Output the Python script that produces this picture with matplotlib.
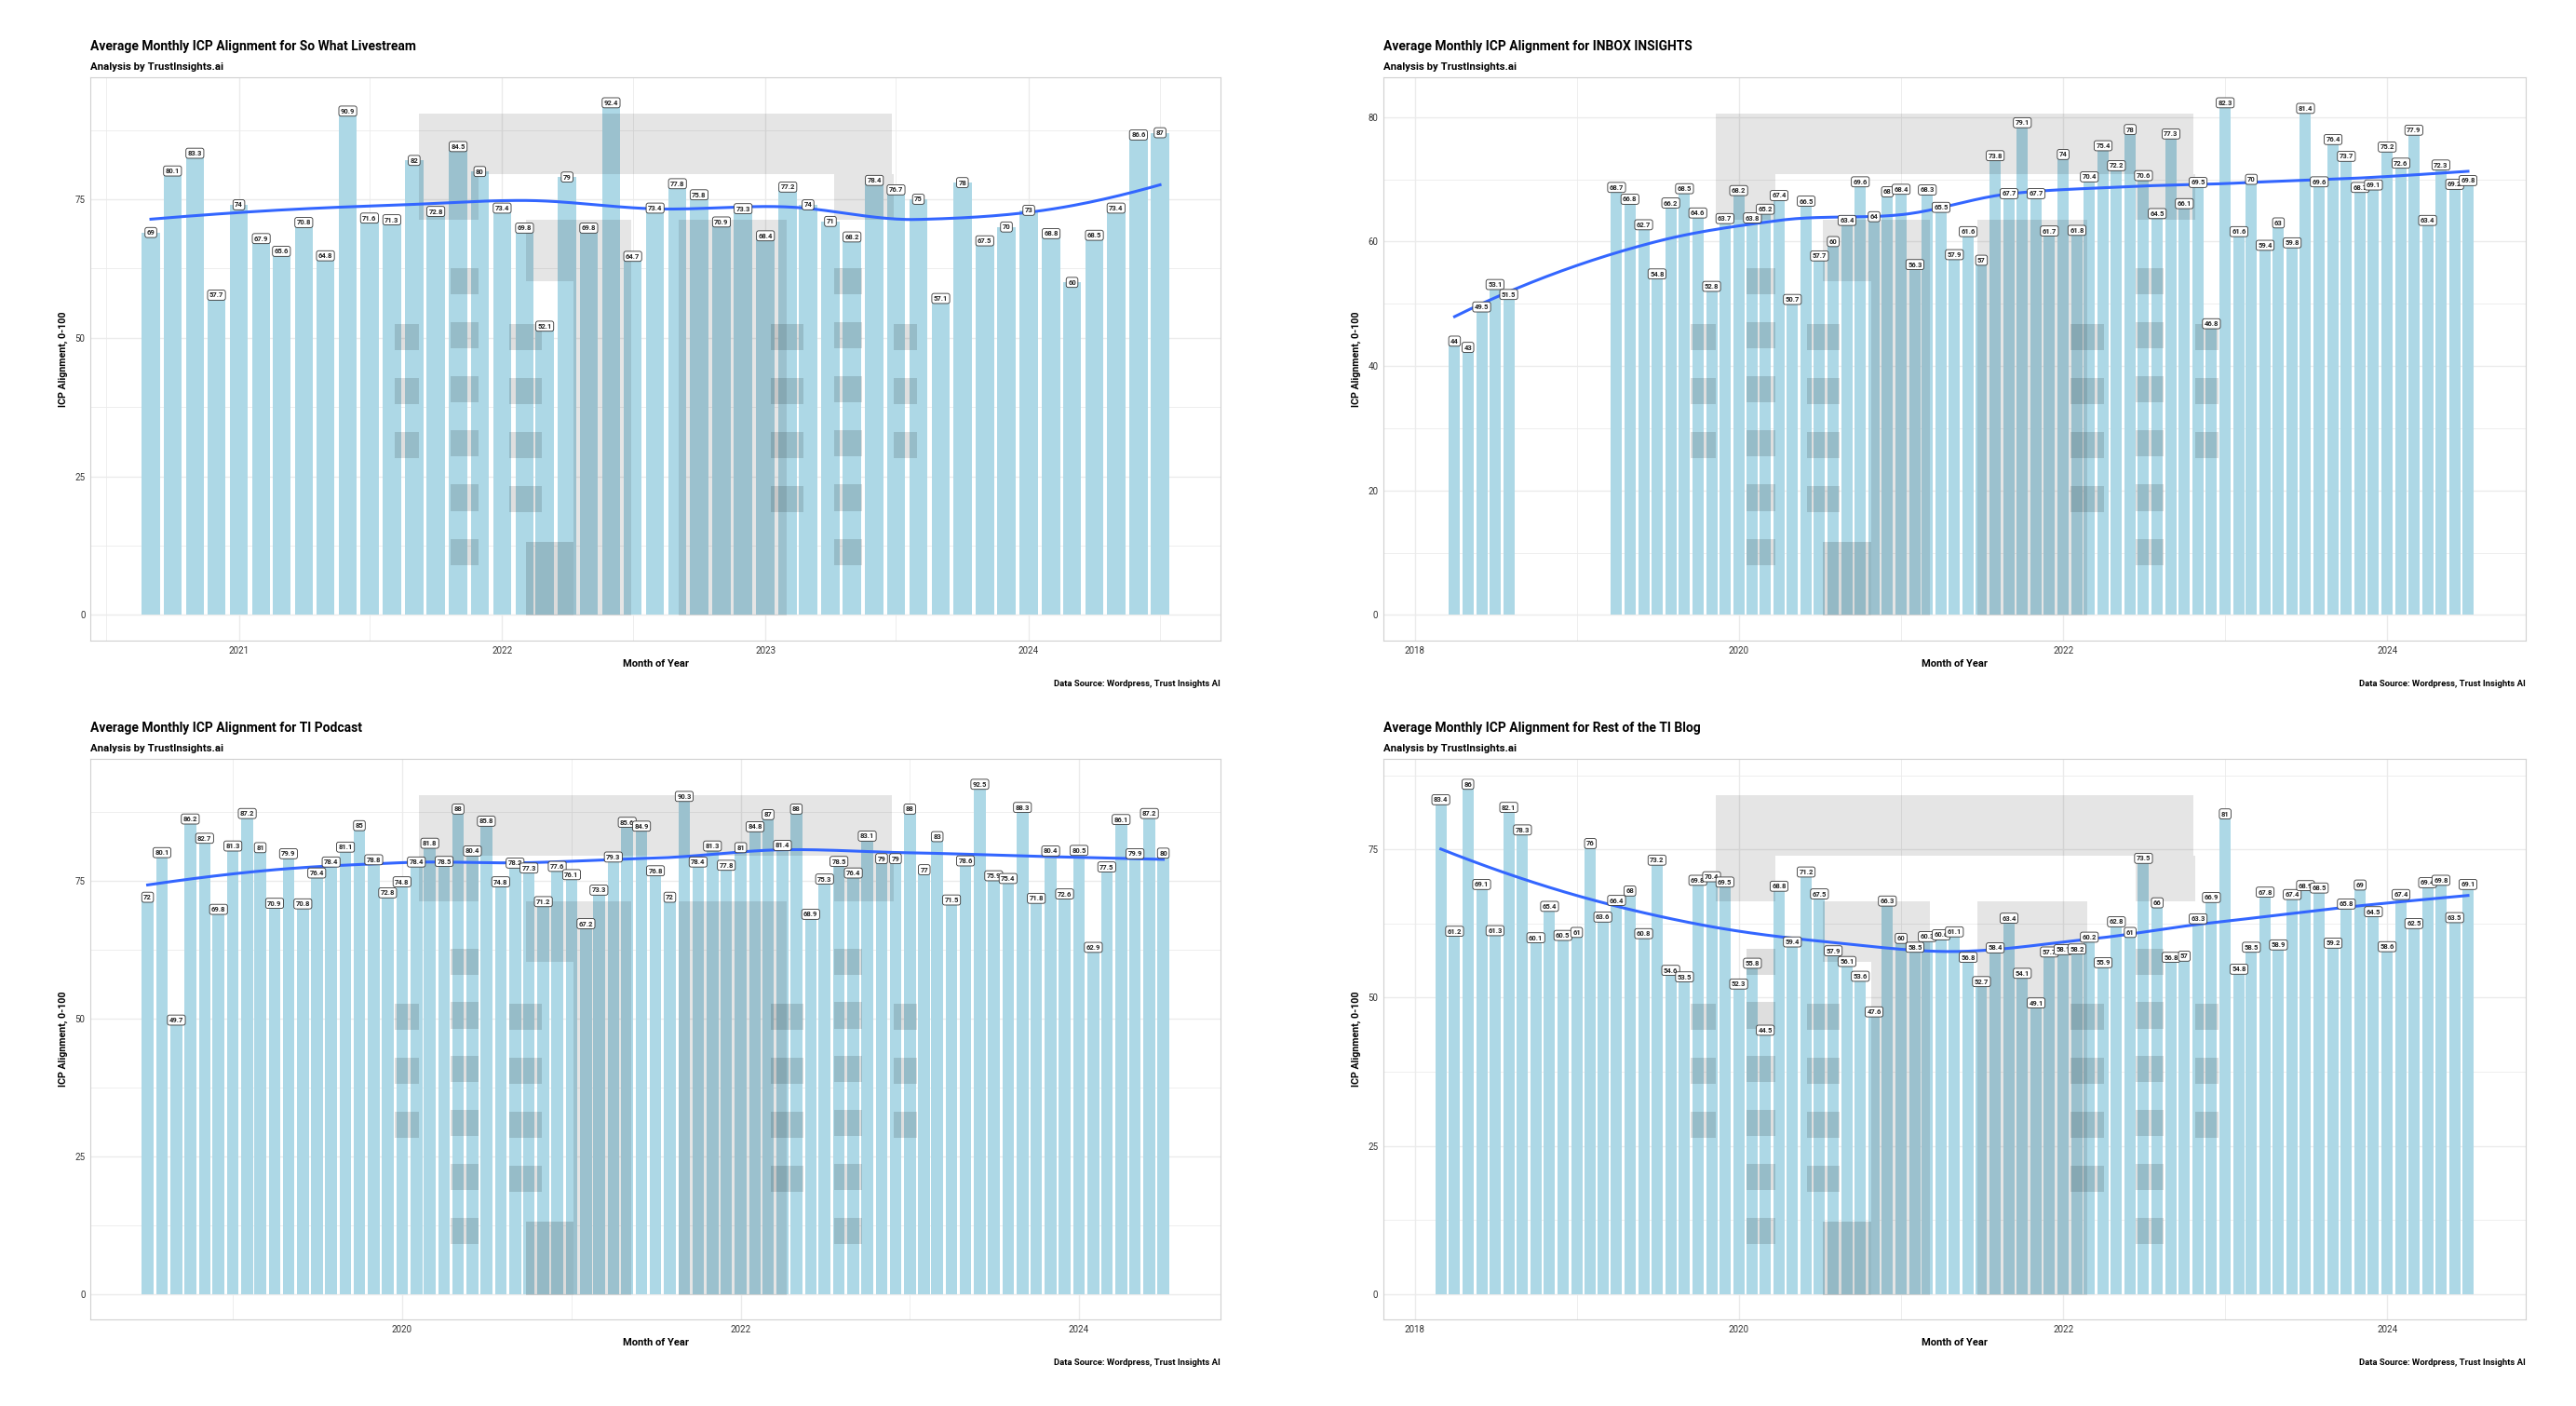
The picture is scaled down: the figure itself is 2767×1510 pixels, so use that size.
import numpy as np
import pandas as pd
import matplotlib
matplotlib.use("Agg")
import matplotlib.pyplot as plt
import matplotlib.dates as mdates
from matplotlib.patches import Rectangle

plt.rcParams['font.family'] = ['Roboto', 'DejaVu Sans']

# ---- data (monthly averages) ----
swl_start = '2020-09-01'
swl_values = [69, 80.1, 83.3, 57.7, 74, 67.9, 65.6, 70.8, 64.8, 90.9, 71.6, 71.3,
              82, 72.8, 84.5, 80, 73.4, 69.8, 52.1, 79, 69.8, 92.4, 64.7, 73.4,
              77.8, 75.8, 70.9, 73.3, 68.4, 77.2, 74, 71, 68.2, 78.4, 76.7, 75,
              57.1, 78, 67.5, 70, 73, 68.8, 60, 68.5, 73.4, 86.6, 87]

inbox_start_a = '2018-04-01'
inbox_values_a = [44, 43, 49.5, 53.1, 51.5]
inbox_start_b = '2019-04-01'
inbox_values_b = [68.7, 66.8, 62.7, 54.8, 66.2, 68.5, 64.6, 52.8, 63.7,
                  68.2, 63.8, 65.2, 67.4, 50.7, 66.5, 57.7, 60, 63.4, 69.6, 64, 68,
                  68.4, 56.3, 68.3, 65.5, 57.9, 61.6, 57, 73.8, 67.7, 79.1, 67.7, 61.7,
                  74, 61.8, 70.4, 75.4, 72.2, 78, 70.6, 64.5, 77.3, 66.1, 69.5, 46.8,
                  82.3, 61.6, 70, 59.4, 63, 59.8, 81.4, 69.6, 76.4, 73.7, 68.7, 69.1,
                  75.2, 72.6, 77.9, 63.4, 72.3, 69.2, 69.8]
inbox_axis_start = '2018-03-01'  # axis begins one month before the first bar

podcast_start = '2018-07-01'
podcast_values = [72, 80.1, 49.7, 86.2, 82.7, 69.8,
                  81.3, 87.2, 81, 70.9, 79.9, 70.8, 76.4, 78.4, 81.1, 85, 78.8, 72.8,
                  74.8, 78.4, 81.8, 78.5, 88, 80.4, 85.8, 74.8, 78.2, 77.3, 71.2, 77.6,
                  76.1, 67.2, 73.3, 79.3, 85.6, 84.9, 76.8, 72, 90.3, 78.4, 81.3, 77.8,
                  81, 84.8, 87, 81.4, 88, 68.9, 75.3, 78.5, 76.4, 83.1, 79, 79,
                  88, 77, 83, 71.5, 78.6, 92.5, 75.9, 75.4, 88.3, 71.8, 80.4, 72.6,
                  80.5, 62.9, 77.5, 86.1, 79.9, 87.2, 80]

blog_start = '2018-03-01'
blog_values = [83.4, 61.2, 86, 69.1, 61.3, 82.1, 78.3, 60.1, 65.4, 60.5,
               61, 76, 63.6, 66.4, 68, 60.8, 73.2, 54.6, 53.5, 69.8, 70.4, 69.5,
               52.3, 55.8, 44.5, 68.8, 59.4, 71.2, 67.5, 57.9, 56.1, 53.6, 47.6, 66.3,
               60, 58.5, 60.3, 60.6, 61.1, 56.8, 52.7, 58.4, 63.4, 54.1, 49.1, 57.7,
               58.1, 58.2, 60.2, 55.9, 62.8, 61, 73.5, 66, 56.8, 57, 63.3, 66.9,
               81, 54.8, 58.5, 67.8, 58.9, 67.4, 68.9, 68.5, 59.2, 65.8, 69, 64.5,
               58.6, 67.4, 62.5, 69.4, 69.8, 63.5, 69.1]

titles = ['Average Monthly ICP Alignment for So What Livestream',
          'Average Monthly ICP Alignment for INBOX INSIGHTS',
          'Average Monthly ICP Alignment for TI Podcast',
          'Average Monthly ICP Alignment for Rest of the TI Blog']
subtitle = 'Analysis by TrustInsights.ai'
caption = 'Data Source: Wordpress, Trust Insights AI'

BAR = '#ADD8E6'
LINE = '#3366FF'
GRID = '#EBEBEB'


def months(start, n):
    return mdates.date2num(pd.date_range(start, periods=n, freq='MS'))


def local_fit(x, y, x0, q):
    d = np.abs(x - x0)
    rho = np.sort(d)[q - 1]
    w = np.where(d < rho, (1 - (d / rho) ** 3) ** 3, 0.0)
    A = np.vstack([np.ones_like(x), x - x0, (x - x0) ** 2]).T
    sw = np.sqrt(w)
    coef = np.linalg.lstsq(A * sw[:, None], y * sw, rcond=None)[0]
    return coef[0], coef[1]


def loess(x, y, xs, span=0.75, cell=0.2):
    # loess with kd-tree vertices + cubic hermite interpolation (like R's default)
    o = np.argsort(x)
    x, y = x[o], y[o]
    n = len(x)
    q = int(np.floor(n * span))
    fc = int(np.floor(n * span * cell))
    mu = 0.005 * (x.max() - x.min())
    verts = {x.min() - mu, x.max() + mu}

    def split(l, u, lo, hi):
        if u - l + 1 <= fc:
            return
        m = (l + u) // 2
        v = x[m - 1]
        if v == lo or v == hi:
            return
        verts.add(v)
        split(l, m, lo, v)
        split(m + 1, u, v, hi)

    split(1, n, x.min() - mu, x.max() + mu)
    vs = np.array(sorted(verts))
    fits = np.array([local_fit(x, y, v, q) for v in vs])
    out = []
    for x0 in xs:
        i = min(max(np.searchsorted(vs, x0) - 1, 0), len(vs) - 2)
        h = vs[i + 1] - vs[i]
        t = (x0 - vs[i]) / h
        h00 = 2 * t**3 - 3 * t**2 + 1
        h10 = t**3 - 2 * t**2 + t
        h01 = -2 * t**3 + 3 * t**2
        h11 = t**3 - t**2
        out.append(h00 * fits[i, 0] + h10 * h * fits[i, 1]
                   + h01 * fits[i + 1, 0] + h11 * h * fits[i + 1, 1])
    return np.array(out)


def watermark(ax):
    # grey logo laid over the panel; boxes measured in pixels on the first panel
    # (x0, x1, y0, y1, alpha), panel spans x 55..743, y 47..390
    boxes = [(255, 543, 69, 106, 0.10), (255, 291, 106, 134, 0.10), (508, 544, 106, 134, 0.10),
             (320, 384, 134, 171, 0.10), (413, 479, 134, 171, 0.10),
             (349, 384, 171, 375, 0.10), (413, 479, 171, 375, 0.10),
             (320, 349, 330, 375, 0.14)]
    for cx0, cx1, rows in [(240, 255, 3), (274, 291, 6), (310, 330, 4),
                           (469, 489, 4), (508, 525, 6), (544, 558, 3)]:
        first = 163 if rows == 6 else 197
        for r in range(rows):
            boxes.append((cx0, cx1, first + 33 * r, first + 33 * r + 16, 0.13))
    for x0, x1, y0, y1, a in boxes:
        ax.add_patch(Rectangle(((x0 - 55) / 688, (390 - y1) / 343), (x1 - x0) / 688, (y1 - y0) / 343,
                               transform=ax.transAxes, color='black', alpha=a, lw=0, zorder=2.5))


def panel(fig, rect, x, y, title, yticks, xticks, axis_start=None):
    ax = fig.add_axes(rect)
    x = np.asarray(x, dtype=float)
    y = np.asarray(y, dtype=float)
    width = 25.2
    ax.bar(x, y, width=width, color=BAR, zorder=2)
    xs = np.linspace(x.min(), x.max(), 200)
    yr = (x - x.min()) / 365.25
    ax.plot(xs, loess(yr, y, (xs - x.min()) / 365.25), color=LINE, lw=2.2, zorder=3)
    for xi, yi in zip(x, y):
        ax.text(xi, yi, f'{yi:g}', ha='center', va='center', fontsize=5.5, fontweight='bold',
                color='#222222', zorder=4,
                bbox=dict(boxstyle='round,pad=0.25,rounding_size=0.3', fc='white', ec='#333333', lw=0.6))
    ymax = y.max()
    ax.set_yticks(yticks)
    ax.set_yticks([t + (yticks[1] - yticks[0]) / 2 for t in yticks], minor=True)
    xt = mdates.date2num(pd.to_datetime([f'{t}-01-01' for t in xticks]))
    ax.set_xticks(xt)
    ax.set_xticklabels([str(t) for t in xticks])
    step = xticks[1] - xticks[0]
    if step == 1:
        xm = pd.to_datetime([f'{t - 1}-07-01' for t in xticks] + [f'{xticks[-1]}-07-01'])
    else:
        xm = pd.to_datetime([f'{t - 1}-01-01' for t in xticks] + [f'{xticks[-1] + 1}-01-01'])
    ax.set_xticks(mdates.date2num(xm), minor=True)
    first = x.min() if axis_start is None else mdates.date2num(pd.Timestamp(axis_start))
    lo, hi = first - width / 2, x.max() + width / 2
    pad = (hi - lo) * 0.05
    ax.set_xlim(lo - pad, hi + pad)
    ax.set_ylim(-0.05 * ymax, 1.05 * ymax)
    ax.grid(True, which='major', color=GRID, lw=1.0, zorder=0)
    ax.grid(True, which='minor', color=GRID, lw=0.6, zorder=0)
    ax.set_axisbelow(True)
    ax.tick_params(which='both', length=0, labelsize=7, pad=4, labelcolor='#333333')
    for s in ax.spines.values():
        s.set_color('#D0D0D0')
        s.set_linewidth(0.8)
    watermark(ax)
    ax.set_xlabel('Month of Year', fontsize=8, fontweight='bold', labelpad=3)
    ax.set_ylabel('ICP Alignment, 0-100', fontsize=7.7, fontweight='bold', labelpad=5)
    pos = ax.get_position()
    fig.text(pos.x0, pos.y1 + 0.0215, title, fontsize=10, fontweight='bold', va='center')
    fig.text(pos.x0, pos.y1 + 0.0075, subtitle, fontsize=8.2, fontweight='bold', va='center')
    fig.text(pos.x1, pos.y0 - 0.0305, caption, fontsize=6.8, fontweight='bold', va='center', ha='right')
    return ax


fig = plt.figure(figsize=(27.67, 15.10), dpi=100)
fig.patch.set_facecolor('white')

W1, W2 = 0.4387, 0.4434
H = 0.4007
panel(fig, [0.0351, 0.5444, W1, H], months(swl_start, len(swl_values)), swl_values,
      titles[0], [0, 25, 50, 75], [2021, 2022, 2023, 2024])
inbox_x = np.concatenate([months(inbox_start_a, len(inbox_values_a)),
                          months(inbox_start_b, len(inbox_values_b))])
panel(fig, [0.5370, 0.5444, W2, H], inbox_x, inbox_values_a + inbox_values_b,
      titles[1], [0, 20, 40, 60, 80], [2018, 2020, 2022, 2024], axis_start=inbox_axis_start)
panel(fig, [0.0351, 0.0616, W1, 0.3987], months(podcast_start, len(podcast_values)), podcast_values,
      titles[2], [0, 25, 50, 75], [2020, 2022, 2024])
panel(fig, [0.5370, 0.0616, W2, 0.3987], months(blog_start, len(blog_values)), blog_values,
      titles[3], [0, 25, 50, 75], [2018, 2020, 2022, 2024])

fig.savefig('out.png', dpi=100)
